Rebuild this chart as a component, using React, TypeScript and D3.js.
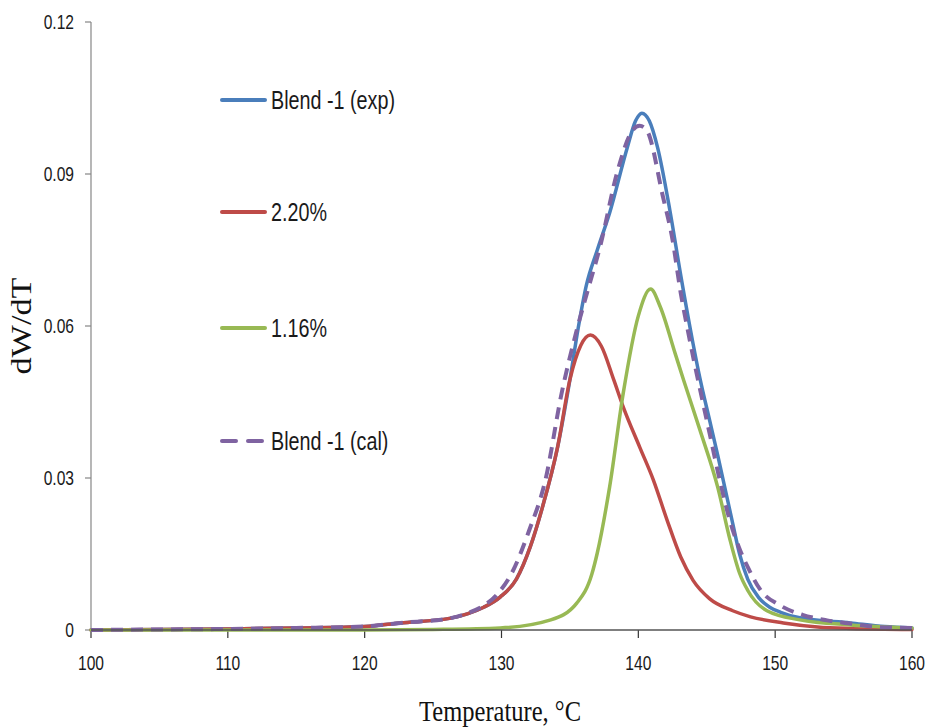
import React from "react";
import * as d3 from "d3";

const xTicks = [100, 110, 120, 130, 140, 150, 160];
const yTicks = [0, 0.03, 0.06, 0.09, 0.12];
const yTickLabels = ["0", "0.03", "0.06", "0.09", "0.12"];

const expT = [100, 105, 110, 115, 120, 122.6, 126.2, 127.5, 128.7, 129.9, 131.1, 132.1, 133.0, 134.1, 135.0, 135.6, 136.2, 137.0, 137.9, 139.2, 139.8, 140.26, 140.8, 141.4, 142.3, 143.1, 144.0, 144.5, 145.2, 145.8, 146.9, 147.4, 148.0, 148.8, 149.6, 150.4, 151.8, 155.5, 158, 160];
const expV = [0, 0.0001, 0.0002, 0.0004, 0.0007, 0.0014, 0.0023, 0.0032, 0.0045, 0.0065, 0.0101, 0.0164, 0.0243, 0.0361, 0.0494, 0.0595, 0.068, 0.075, 0.0823, 0.0953, 0.1005, 0.102, 0.1005, 0.0953, 0.0829, 0.07, 0.0565, 0.0497, 0.0415, 0.0345, 0.021, 0.015, 0.01, 0.0064, 0.0045, 0.0035, 0.0024, 0.0014, 0.0007, 0.0004];

const redT = [100, 105, 110, 115, 120, 122.6, 126.2, 127.5, 128.7, 129.9, 131.1, 132.1, 133.0, 134.1, 135.0, 135.8, 136.5, 137.3, 138.2, 138.9, 140.1, 141.1, 142.1, 143.1, 144.0, 145.2, 146.9, 148.2, 150.6, 153.1, 155.5, 160];
const redV = [0, 0.0001, 0.0002, 0.0004, 0.0007, 0.0014, 0.0023, 0.0032, 0.0045, 0.0065, 0.0101, 0.0164, 0.0243, 0.0361, 0.0494, 0.0562, 0.0582, 0.056, 0.0494, 0.044, 0.0361, 0.0296, 0.0217, 0.0144, 0.0098, 0.0062, 0.0038, 0.0026, 0.0014, 0.0006, 0.0003, 0.0001];

const greenT = [100, 110, 120, 125, 129.9, 133.6, 135.5, 136.6, 137.0, 137.9, 138.9, 140.0, 140.9, 141.6, 142.7, 143.3, 144.5, 145.8, 146.7, 147.4, 148.0, 149.4, 151.8, 155.5, 160];
const greenV = [0, 0, 0, 0.0001, 0.0004, 0.002, 0.0053, 0.011, 0.0152, 0.0282, 0.0468, 0.062, 0.0673, 0.0638, 0.0545, 0.0494, 0.0395, 0.0282, 0.0178, 0.0112, 0.0078, 0.0038, 0.002, 0.001, 0.0004];

const calT = [100, 105, 110, 115, 120, 122.6, 126.2, 127.5, 128.7, 129.6, 130.8, 132.0, 133.2, 134.4, 135.5, 136.3, 137.2, 138.5, 139.6, 140.1, 140.6, 141.8, 142.5, 143.1, 143.7, 145.2, 146.0, 146.7, 147.4, 148.0, 148.9, 150.4, 152.0, 153.8, 155.7, 157.4, 160];
const calV = [0, 0.0001, 0.0002, 0.0004, 0.0007, 0.0014, 0.0023, 0.0033, 0.0048, 0.0068, 0.0115, 0.0195, 0.0295, 0.0468, 0.0592, 0.067, 0.0756, 0.0908, 0.0987, 0.0995, 0.0987, 0.0855, 0.077, 0.0665, 0.058, 0.0389, 0.029, 0.0215, 0.016, 0.0124, 0.008, 0.0048, 0.003, 0.0019, 0.0012, 0.0006, 0.0004];

const seriesNames = ["Blend -1 (exp)", "2.20%", "1.16%", "Blend -1 (cal)"];
const seriesColors = ["#4A7EBB", "#BE4B48", "#98B954", "#7F63A1"];

const SANS = "'Liberation Sans', Arial, sans-serif";
const SERIF = "'Liberation Serif', 'Times New Roman', serif";

function NText(props: { x: number; y: number; size: number; anchor?: string; sx?: number; children: React.ReactNode }) {
  const sx = props.sx ?? 0.8;
  return (
    <text
      transform={`translate(${props.x},${props.y}) scale(${sx},1)`}
      textAnchor={props.anchor || "start"}
      fontFamily={SANS}
      fontSize={props.size}
      fill="#1a1a1a"
    >
      {props.children}
    </text>
  );
}

export default function App() {
  const x = d3.scaleLinear().domain([100, 160]).range([91, 912]);
  const y = d3.scaleLinear().domain([0, 0.12]).range([630, 22]);
  const line = d3
    .line<[number, number]>()
    .x((d) => x(d[0]))
    .y((d) => y(Math.max(0, d[1])))
    .curve(d3.curveMonotoneX);
  const zip = (a: number[], b: number[]) => a.map((t, i) => [t, b[i]] as [number, number]);
  const series = [zip(expT, expV), zip(redT, redV), zip(greenT, greenV), zip(calT, calV)];
  const drawOrder = [0, 1, 2, 3];
  const legendY = [100, 212, 328, 441];
  const axisColor = "#868686";

  return (
    <svg width={929} height={728} style={{ position: "absolute", left: 0, top: 0, background: "#fff" }}>
      <line x1={x(100)} x2={x(100)} y1={y(0.12)} y2={y(0)} stroke={axisColor} strokeWidth={1.2} />
      {yTicks.map((t, i) => (
        <g key={"y" + i}>
          <line x1={x(100) - 6} x2={x(100)} y1={y(t)} y2={y(t)} stroke={axisColor} strokeWidth={1.2} />
          <NText x={74} y={y(t) + 7} size={20} anchor="end" sx={0.78}>
            {yTickLabels[i]}
          </NText>
        </g>
      ))}
      {xTicks.map((t) => (
        <g key={"x" + t}>
          <line x1={x(t)} x2={x(t)} y1={y(0)} y2={y(0) + 8} stroke="#333" strokeWidth={1.2} />
          <NText x={x(t)} y={670} size={20} anchor="middle" sx={0.78}>
            {t}
          </NText>
        </g>
      ))}
      {drawOrder.map((i) => (
        <path
          key={"s" + i}
          d={line(series[i]) || ""}
          fill="none"
          stroke={seriesColors[i]}
          strokeWidth={i === 3 ? 4 : 3.5}
          strokeDasharray={i === 3 ? "12 8" : undefined}
          strokeLinejoin="round"
          strokeLinecap={i === 3 ? "butt" : "round"}
        />
      ))}
      <line x1={x(100)} x2={x(160)} y1={y(0)} y2={y(0)} stroke="#555" strokeWidth={1.5} />
      {seriesNames.map((n, i) => (
        <g key={"l" + i}>
          {i === 3 ? (
            <>
              <line x1={222} x2={236} y1={legendY[i]} y2={legendY[i]} stroke={seriesColors[i]} strokeWidth={4} strokeLinecap="round" />
              <line x1={248} x2={262} y1={legendY[i]} y2={legendY[i]} stroke={seriesColors[i]} strokeWidth={4} strokeLinecap="round" />
            </>
          ) : (
            <line x1={222} x2={265} y1={legendY[i]} y2={legendY[i]} stroke={seriesColors[i]} strokeWidth={4} strokeLinecap="round" />
          )}
          <NText x={271} y={legendY[i] + 9} size={25} sx={0.79}>
            {n}
          </NText>
        </g>
      ))}
      <text
        x={500}
        y={721}
        textAnchor="middle"
        fontFamily={SERIF}
        fontSize={29}
        textLength={162}
        lengthAdjust="spacingAndGlyphs"
        fill="#111"
      >
        Temperature, °C
      </text>
      <text
        transform="translate(31,326) rotate(-90)"
        textAnchor="middle"
        fontFamily={SERIF}
        fontSize={29}
        textLength={97}
        lengthAdjust="spacingAndGlyphs"
        fill="#111"
      >
        dW/dT
      </text>
    </svg>
  );
}
